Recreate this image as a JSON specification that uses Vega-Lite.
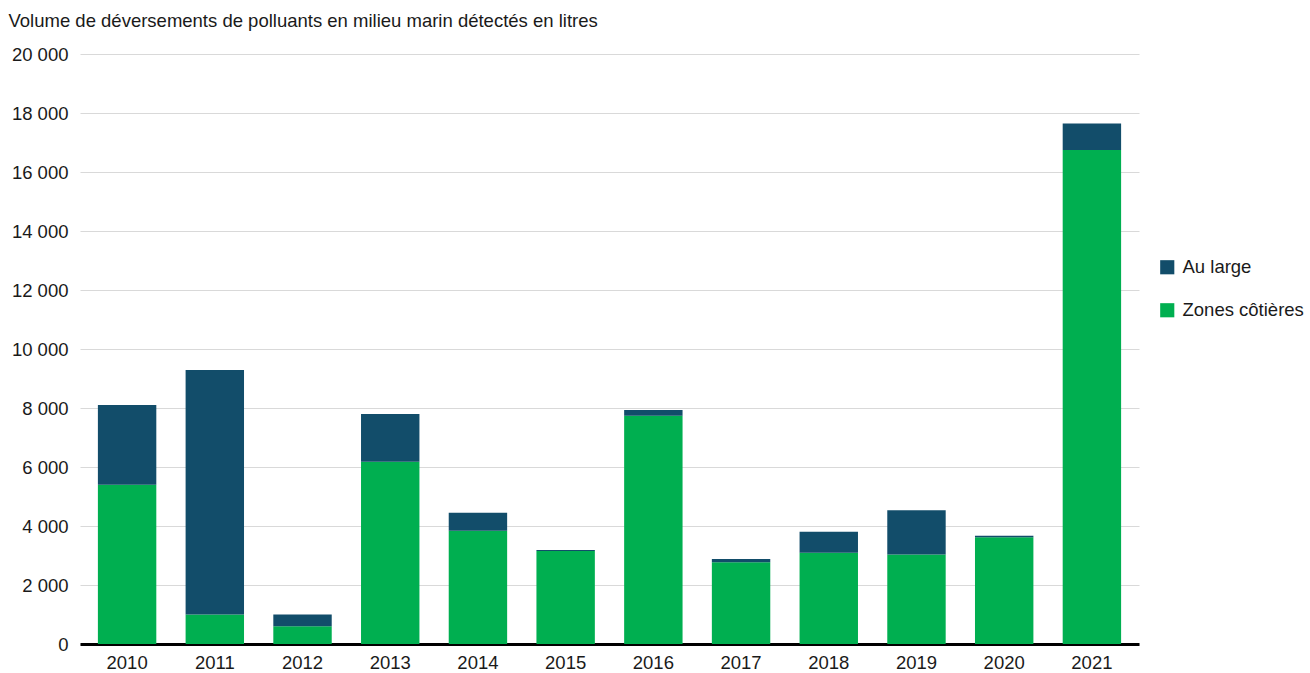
{
  "$schema": "https://vega.github.io/schema/vega-lite/v6.json",
  "autosize": "none",
  "padding": {"left": 80, "top": 54, "right": 171, "bottom": 29},
  "width": 1059,
  "height": 590,
  "config": {
    "locale": {"number": {"decimal": ",", "thousands": " ", "grouping": [3], "currency": ["", " €"]}},
    "font": "Liberation Sans",
    "view": {"stroke": null}
  },
  "data": {
    "values": [
      {"annee": "2010", "serie": "Zones côtières", "volume": 5400},
      {"annee": "2010", "serie": "Au large", "volume": 2700},
      {"annee": "2011", "serie": "Zones côtières", "volume": 1000},
      {"annee": "2011", "serie": "Au large", "volume": 8290},
      {"annee": "2012", "serie": "Zones côtières", "volume": 600},
      {"annee": "2012", "serie": "Au large", "volume": 400},
      {"annee": "2013", "serie": "Zones côtières", "volume": 6180},
      {"annee": "2013", "serie": "Au large", "volume": 1620},
      {"annee": "2014", "serie": "Zones côtières", "volume": 3840},
      {"annee": "2014", "serie": "Au large", "volume": 610},
      {"annee": "2015", "serie": "Zones côtières", "volume": 3150},
      {"annee": "2015", "serie": "Au large", "volume": 36},
      {"annee": "2016", "serie": "Zones côtières", "volume": 7740},
      {"annee": "2016", "serie": "Au large", "volume": 190},
      {"annee": "2017", "serie": "Zones côtières", "volume": 2770},
      {"annee": "2017", "serie": "Au large", "volume": 110},
      {"annee": "2018", "serie": "Zones côtières", "volume": 3095},
      {"annee": "2018", "serie": "Au large", "volume": 710},
      {"annee": "2019", "serie": "Zones côtières", "volume": 3030},
      {"annee": "2019", "serie": "Au large", "volume": 1500},
      {"annee": "2020", "serie": "Zones côtières", "volume": 3615},
      {"annee": "2020", "serie": "Au large", "volume": 55},
      {"annee": "2021", "serie": "Zones côtières", "volume": 16750},
      {"annee": "2021", "serie": "Au large", "volume": 890}
    ]
  },
  "mark": {"type": "bar"},
  "encoding": {
    "x": {
      "field": "annee",
      "type": "ordinal",
      "scale": {"paddingInner": 0.334, "paddingOuter": 0.204},
      "axis": {
        "title": null,
        "labelAngle": 0,
        "labelFontSize": 18.5,
        "labelColor": "#1a1a1a",
        "labelPadding": 9,
        "ticks": false,
        "domainColor": "#000000",
        "domainWidth": 3
      }
    },
    "y": {
      "field": "volume",
      "type": "quantitative",
      "aggregate": "sum",
      "stack": "zero",
      "scale": {"domain": [0, 20000], "nice": false},
      "axis": {
        "title": "Volume de déversements de polluants en milieu marin détectés en litres",
        "titleAngle": 0,
        "titleAlign": "left",
        "titleBaseline": "alphabetic",
        "titleX": -72,
        "titleY": -28,
        "titleFontSize": 18.5,
        "titleFontWeight": "normal",
        "titleColor": "#1a1a1a",
        "values": [0, 2000, 4000, 6000, 8000, 10000, 12000, 14000, 16000, 18000, 20000],
        "format": ",d",
        "labelFontSize": 18.5,
        "labelColor": "#1a1a1a",
        "labelPadding": 12,
        "ticks": false,
        "domain": false,
        "grid": true,
        "gridColor": "#d9d9d9",
        "gridWidth": 1
      }
    },
    "color": {
      "field": "serie",
      "type": "nominal",
      "scale": {"domain": ["Au large", "Zones côtières"], "range": ["#124D6A", "#00AF50"]},
      "legend": {
        "title": null,
        "orient": "none",
        "legendX": 1078,
        "legendY": 204,
        "symbolType": "square",
        "symbolSize": 200,
        "symbolStrokeWidth": 0,
        "labelFontSize": 18.5,
        "labelColor": "#1a1a1a",
        "labelOffset": 6,
        "rowPadding": 24
      }
    },
    "order": {"field": "serie", "sort": "descending"}
  }
}
